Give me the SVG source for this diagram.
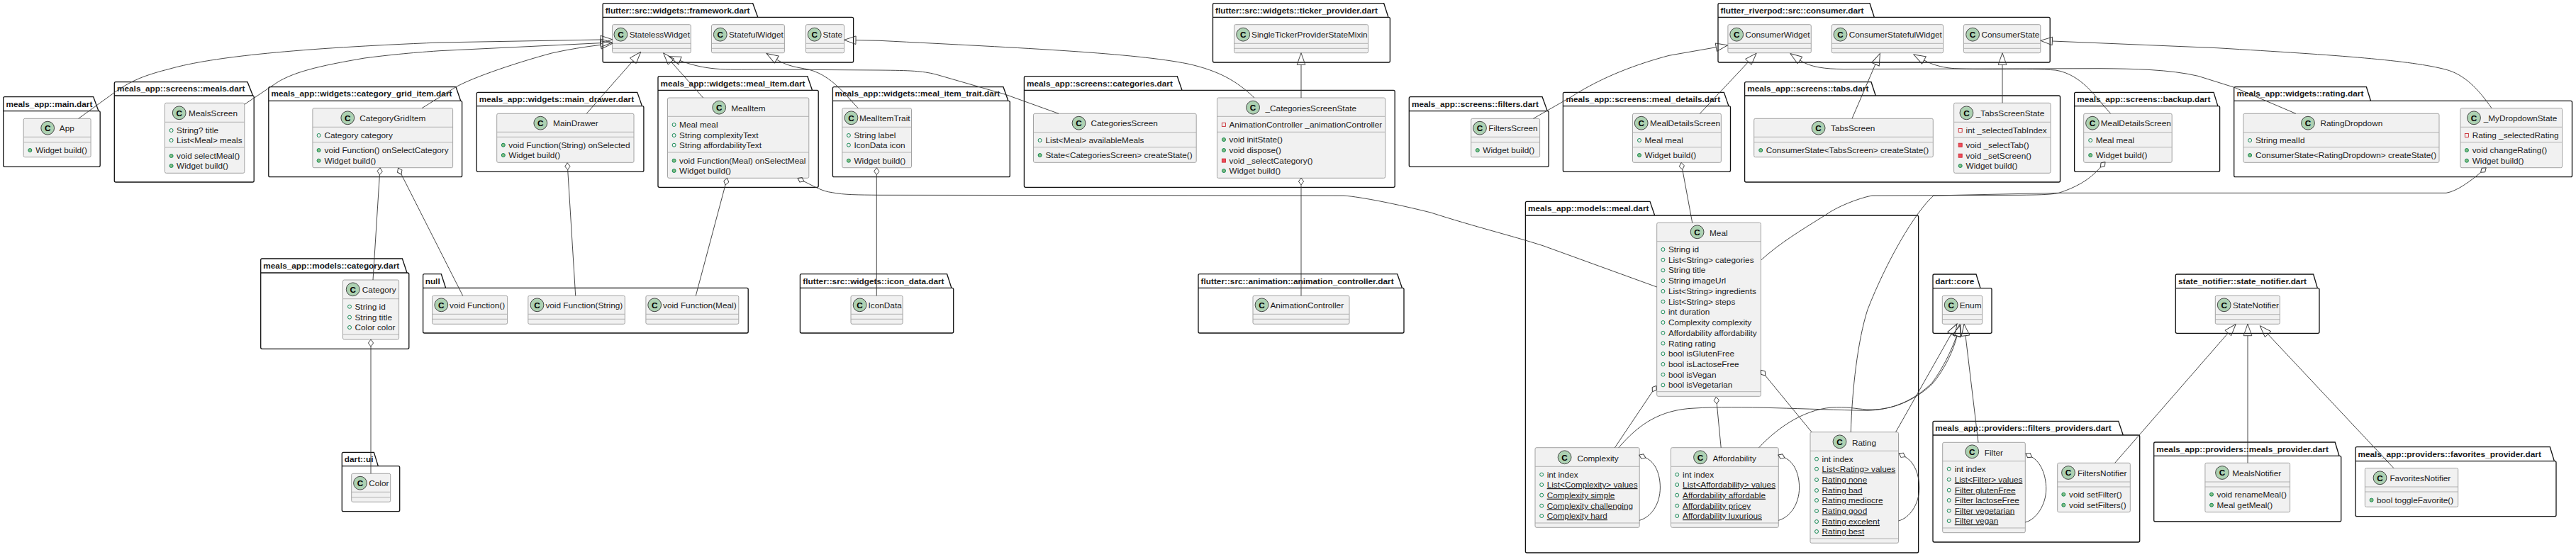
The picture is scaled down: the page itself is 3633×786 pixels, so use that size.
<svg xmlns="http://www.w3.org/2000/svg" width="3633" height="786" viewBox="0 0 3633 786">
<style>
text{font-family:"Liberation Sans",Arial,sans-serif;font-size:11.8px;fill:#1a1a1a}
.t{font-weight:bold}
.l{font-weight:bold;text-anchor:middle;fill:#000}
.u{text-decoration:underline}
.p{fill:none;stroke:#111;stroke-width:1.3}
.b{fill:#F1F1F1;stroke:#999;stroke-width:.9}
.d{fill:none;stroke:#aaa;stroke-width:.9}
.i{fill:#ADD1B2;stroke:#333;stroke-width:.9;r:9.4px}
.oa{fill:none;stroke:#038048;stroke-width:.9}
.om{fill:#84BE84;stroke:#038048;stroke-width:.9}
.xa{fill:none;stroke:#C82930;stroke-width:.9}
.xm{fill:#F24D5C;stroke:#C82930;stroke-width:.9}
#connectors path{fill:none;stroke:#333;stroke-width:.9}
#connectors .e{marker-end:url(#ext)}
#connectors .a{marker-start:url(#agg)}
</style>
<defs>
<marker id="ext" markerUnits="userSpaceOnUse" markerWidth="20" markerHeight="14" refX="1" refY="7" orient="auto"><path d="M1 1.2L17.6 7L1 12.8Z" fill="none" stroke="#333" stroke-width=".9"/></marker>
<marker id="agg" markerUnits="userSpaceOnUse" markerWidth="13" markerHeight="10" refX="11" refY="5" orient="auto"><path d="M1 5L6 1.4L11 5L6 8.6Z" fill="none" stroke="#333" stroke-width=".9"/></marker>
</defs>

<g id="pkg-main"><path class="p" d="M4.7 156.7V138.7Q4.7 136.7 6.7 136.7H131.7L139 156.7H139.2Q141.2 156.7 141.2 158.7V233.3Q141.2 235.3 139.2 235.3H6.7Q4.7 235.3 4.7 233.3V156.7H139"/><text class="t" x="8.4" y="150.7">meals_app::main.dart</text>
<g id="App"><rect class="b" x="33.2" y="167.3" width="94.9" height="54.4" rx="2"/><path class="d" d="M33.2 193.3H128.1M33.2 200.7H128.1"/><circle class="i" cx="67.2" cy="180.7" r="9.2"/><text class="l" x="67.2" y="185">C</text><text x="83.8" y="185">App</text><circle class="om" cx="42.3" cy="212" r="2.5"/><text x="50.2" y="216">Widget build()</text></g></g>

<g id="pkg-meals"><path class="p" d="M161.3 135V117.7Q161.3 115.7 163.3 115.7H349L356.7 135Q358.2 135 358.2 137V255Q358.2 257 356.2 257H163.3Q161.3 257 161.3 255V135H356.7"/><text class="t" x="165" y="129">meals_app::screens::meals.dart</text>
<g id="MealsScreen"><rect class="b" x="232.5" y="145.3" width="112.3" height="99" rx="2"/><path class="d" d="M232.5 172.3H344.8M232.5 208H344.8"/><circle class="i" cx="252.7" cy="159.3" r="9.2"/><text class="l" x="252.7" y="163.6">C</text><text x="266.1" y="164">MealsScreen</text><circle class="oa" cx="241.6" cy="184" r="2.5"/><text x="249.1" y="188">String? title</text><circle class="oa" cx="241.6" cy="198" r="2.5"/><text x="249.1" y="202">List&lt;Meal&gt; meals</text><circle class="om" cx="241.6" cy="220" r="2.5"/><text x="249.1" y="224">void selectMeal()</text><circle class="om" cx="241.6" cy="234" r="2.5"/><text x="249.1" y="238">Widget build()</text></g></g>

<g id="pkg-grid"><path class="p" d="M378.8 142.3V124.7Q378.8 122.7 380.8 122.7H643L649.7 142.3Q651.6 142.3 651.6 144.3V247.7Q651.6 249.7 649.6 249.7H380.8Q378.8 249.7 378.8 247.7V142.3H649.7"/><text class="t" x="382.4" y="136">meals_app::widgets::category_grid_item.dart</text>
<g id="CategoryGridItem"><rect class="b" x="440.9" y="152.7" width="197.7" height="84" rx="2"/><path class="d" d="M440.9 179.3H638.6M440.9 200.7H638.6"/><circle class="i" cx="490.3" cy="166.3" r="9.2"/><text class="l" x="490.3" y="170.6">C</text><text x="507.3" y="171">CategoryGridItem</text><circle class="oa" cx="449.6" cy="191" r="2.5"/><text x="457.5" y="195">Category category</text><circle class="om" cx="449.6" cy="212" r="2.5"/><text x="457.5" y="216">void Function() onSelectCategory</text><circle class="om" cx="449.6" cy="226.7" r="2.5"/><text x="457.5" y="230.7">Widget build()</text></g></g>

<g id="pkg-category"><path class="p" d="M367.7 385V367Q367.7 365 369.7 365H567.4L574 385H574.8Q576.8 385 576.8 387V490.3Q576.8 492.3 574.8 492.3H369.7Q367.7 492.3 367.7 490.3V385H574"/><text class="t" x="371.3" y="379">meals_app::models::category.dart</text>
<g id="Category"><rect class="b" x="483.5" y="395" width="79.1" height="84" rx="2"/><path class="d" d="M483.5 421.7H562.6M483.5 472H562.6"/><circle class="i" cx="497.7" cy="408.3" r="9.2"/><text class="l" x="497.7" y="412.6">C</text><text x="510.8" y="413">Category</text><circle class="oa" cx="493" cy="432.7" r="2.5"/><text x="500.5" y="436.7">String id</text><circle class="oa" cx="493" cy="447.7" r="2.5"/><text x="500.5" y="451.7">String title</text><circle class="oa" cx="493" cy="462" r="2.5"/><text x="500.5" y="466">Color color</text></g></g>

<g id="pkg-ui"><path class="p" d="M482.3 657.7V640.3Q482.3 638.3 484.3 638.3H527.4L533.3 657.7H561.7Q563.7 657.7 563.7 659.7V719.7Q563.7 721.7 561.7 721.7H484.3Q482.3 721.7 482.3 719.7V657.7H533.3"/><text class="t" x="485.8" y="652">dart::ui</text>
<g id="Color"><rect class="b" x="495.7" y="668.3" width="55" height="40" rx="2"/><path class="d" d="M495.7 694.3H550.7M495.7 701.7H550.7"/><circle class="i" cx="508" cy="681.7" r="9.2"/><text class="l" x="508" y="686">C</text><text x="520.2" y="686">Color</text></g></g>

<g id="pkg-null"><path class="p" d="M596.6 406.3V388.7Q596.6 386.7 598.6 386.7H622.3L628.6 406.3H1053.2Q1055.2 406.3 1055.2 408.3V468Q1055.2 470 1053.2 470H598.6Q596.6 470 596.6 468V406.3H628.6"/><text class="t" x="599.7" y="401">null</text>
<g id="VoidFunction"><rect class="b" x="609.6" y="417.3" width="106" height="40" rx="2"/><path class="d" d="M609.6 443.3H715.6M609.6 450.3H715.6"/><circle class="i" cx="622.3" cy="430.3" r="9.2"/><text class="l" x="622.3" y="434.6">C</text><text x="634.1" y="435">void Function()</text></g>
<g id="VoidFunctionString"><rect class="b" x="744.8" y="417.3" width="136.5" height="40" rx="2"/><path class="d" d="M744.8 443.3H881.3M744.8 450.3H881.3"/><circle class="i" cx="757.5" cy="430.3" r="9.2"/><text class="l" x="757.5" y="434.6">C</text><text x="769.4" y="435">void Function(String)</text></g>
<g id="VoidFunctionMeal"><rect class="b" x="910.9" y="417.3" width="130.9" height="40" rx="2"/><path class="d" d="M910.9 443.3H1041.8M910.9 450.3H1041.8"/><circle class="i" cx="923.2" cy="430.3" r="9.2"/><text class="l" x="923.2" y="434.6">C</text><text x="935" y="435">void Function(Meal)</text></g></g>

<g id="pkg-icon"><path class="p" d="M1128.4 406.3V388.7Q1128.4 386.7 1130.4 386.7H1335.6L1341.9 406.3H1342.7Q1344.7 406.3 1344.7 408.3V468Q1344.7 470 1342.7 470H1130.4Q1128.4 470 1128.4 468V406.3H1341.9"/><text class="t" x="1132.3" y="401">flutter::src::widgets::icon_data.dart</text>
<g id="IconData"><rect class="b" x="1200" y="417.3" width="73.1" height="40" rx="2"/><path class="d" d="M1200 443.3H1273.1M1200 450.3H1273.1"/><circle class="i" cx="1212.6" cy="430.3" r="9.2"/><text class="l" x="1212.6" y="434.6">C</text><text x="1224.5" y="435">IconData</text></g></g>

<g id="pkg-framework"><path class="p" d="M850.1 24.3V6.7Q850.1 4.7 852.1 4.7H1061.7L1068.8 24.3H1201.6Q1203.6 24.3 1203.6 26.3V86Q1203.6 88 1201.6 88H852.1Q850.1 88 850.1 86V24.3H1068.8"/><text class="t" x="853.7" y="19">flutter::src::widgets::framework.dart</text>
<g id="StatelessWidget"><rect class="b" x="863.6" y="34.7" width="110.7" height="40" rx="2"/><path class="d" d="M863.6 61.3H974.3M863.6 68.3H974.3"/><circle class="i" cx="875.4" cy="48.7" r="9.2"/><text class="l" x="875.4" y="53">C</text><text x="887.7" y="53">StatelessWidget</text></g>
<g id="StatefulWidget"><rect class="b" x="1003.5" y="34.7" width="102.9" height="40" rx="2"/><path class="d" d="M1003.5 61.3H1106.4M1003.5 68.3H1106.4"/><circle class="i" cx="1015.8" cy="48.7" r="9.2"/><text class="l" x="1015.8" y="53">C</text><text x="1028" y="53">StatefulWidget</text></g>
<g id="State"><rect class="b" x="1136.4" y="34.7" width="54.2" height="40" rx="2"/><path class="d" d="M1136.4 61.3H1190.6M1136.4 68.3H1190.6"/><circle class="i" cx="1148.7" cy="48.7" r="9.2"/><text class="l" x="1148.7" y="53">C</text><text x="1160.5" y="53">State</text></g></g>

<g id="pkg-drawer"><path class="p" d="M672.2 149.7V132.3Q672.2 130.3 674.2 130.3H898.8L905.5 149.7H905.9Q907.9 149.7 907.9 151.7V240.3Q907.9 242.3 905.9 242.3H674.2Q672.2 242.3 672.2 240.3V149.7H905.5"/><text class="t" x="675.8" y="144">meals_app::widgets::main_drawer.dart</text>
<g id="MainDrawer"><rect class="b" x="700.7" y="160.3" width="193.3" height="69" rx="2"/><path class="d" d="M700.7 186.3H894M700.7 193.3H894"/><circle class="i" cx="762.3" cy="173.7" r="9.2"/><text class="l" x="762.3" y="178">C</text><text x="780.1" y="178">MainDrawer</text><circle class="om" cx="709.8" cy="204.7" r="2.5"/><text x="717.3" y="208.7">void Function(String) onSelected</text><circle class="om" cx="709.8" cy="219" r="2.5"/><text x="717.3" y="223">Widget build()</text></g></g>

<g id="pkg-mealitem"><path class="p" d="M928 127.3V109.7Q928 107.7 930 107.7H1138.8L1145.5 127.3H1152.2Q1154.2 127.3 1154.2 129.3V262.3Q1154.2 264.3 1152.2 264.3H930Q928 264.3 928 262.3V127.3H1145.5"/><text class="t" x="931.6" y="122">meals_app::widgets::meal_item.dart</text>
<g id="MealItem"><rect class="b" x="941.5" y="138" width="199.3" height="113.3" rx="2"/><path class="d" d="M941.5 164.3H1140.8M941.5 215H1140.8"/><circle class="i" cx="1014.2" cy="151.7" r="9.2"/><text class="l" x="1014.2" y="156">C</text><text x="1031.2" y="156.5">MealItem</text><circle class="oa" cx="950.6" cy="176" r="2.5"/><text x="958.1" y="180">Meal meal</text><circle class="oa" cx="950.6" cy="191" r="2.5"/><text x="958.1" y="195">String complexityText</text><circle class="oa" cx="950.6" cy="204.7" r="2.5"/><text x="958.1" y="208.7">String affordabilityText</text><circle class="om" cx="950.6" cy="226.7" r="2.5"/><text x="958.1" y="230.7">void Function(Meal) onSelectMeal</text><circle class="om" cx="950.6" cy="241" r="2.5"/><text x="958.1" y="245">Widget build()</text></g></g>

<g id="pkg-trait"><path class="p" d="M1174.4 142.3V124.7Q1174.4 122.7 1176.4 122.7H1415L1421.9 142.3H1422.3Q1424.3 142.3 1424.3 144.3V247.7Q1424.3 249.7 1422.3 249.7H1176.4Q1174.4 249.7 1174.4 247.7V142.3H1421.9"/><text class="t" x="1177.5" y="136">meals_app::widgets::meal_item_trait.dart</text>
<g id="MealItemTrait"><rect class="b" x="1187.8" y="152.7" width="97.7" height="84" rx="2"/><path class="d" d="M1187.8 179.3H1285.5M1187.8 215H1285.5"/><circle class="i" cx="1200.5" cy="166.3" r="9.2"/><text class="l" x="1200.5" y="170.6">C</text><text x="1211.9" y="171">MealItemTrait</text><circle class="oa" cx="1196.9" cy="191" r="2.5"/><text x="1204.4" y="195">String label</text><circle class="oa" cx="1196.9" cy="204.7" r="2.5"/><text x="1204.4" y="208.7">IconData icon</text><circle class="om" cx="1196.9" cy="226.7" r="2.5"/><text x="1204.4" y="230.7">Widget build()</text></g></g>

<g id="pkg-ticker"><path class="p" d="M1710.5 24.3V6.7Q1710.5 4.7 1712.5 4.7H1951.7L1958 24.3H1958.4Q1960.4 24.3 1960.4 26.3V86Q1960.4 88 1958.4 88H1712.5Q1710.5 88 1710.5 86V24.3H1958"/><text class="t" x="1714.1" y="19">flutter::src::widgets::ticker_provider.dart</text>
<g id="SingleTickerProviderStateMixin"><rect class="b" x="1740.6" y="34.7" width="189" height="40" rx="2"/><path class="d" d="M1740.6 61.3H1929.6M1740.6 68.3H1929.6"/><circle class="i" cx="1753.2" cy="48.7" r="9.2"/><text class="l" x="1753.2" y="53">C</text><text x="1765.1" y="53">SingleTickerProviderStateMixin</text></g></g>

<g id="pkg-categories"><path class="p" d="M1444.4 127.3V109.7Q1444.4 107.7 1446.4 107.7H1660.3L1667 127.3H1965.2Q1967.2 127.3 1967.2 129.3V262.3Q1967.2 264.3 1965.2 264.3H1446.4Q1444.4 264.3 1444.4 262.3V127.3H1667"/><text class="t" x="1448" y="122">meals_app::screens::categories.dart</text>
<g id="CategoriesScreen"><rect class="b" x="1457.5" y="160.3" width="229.7" height="69" rx="2"/><path class="d" d="M1457.5 186.7H1687.2M1457.5 207.7H1687.2"/><circle class="i" cx="1521.5" cy="173.7" r="9.2"/><text class="l" x="1521.5" y="178">C</text><text x="1538.5" y="178">CategoriesScreen</text><circle class="oa" cx="1466.6" cy="198" r="2.5"/><text x="1474.5" y="202">List&lt;Meal&gt; availableMeals</text><circle class="om" cx="1466.6" cy="219" r="2.5"/><text x="1474.5" y="223">State&lt;CategoriesScreen&gt; createState()</text></g>
<g id="CategoriesScreenState"><rect class="b" x="1716.5" y="138" width="237.2" height="113.3" rx="2"/><path class="d" d="M1716.5 164.3H1953.7M1716.5 186.3H1953.7"/><circle class="i" cx="1767.1" cy="151.7" r="9.2"/><text class="l" x="1767.1" y="156">C</text><text x="1784.5" y="156.5">_CategoriesScreenState</text><rect class="xa" x="1723.4" y="173.4" width="5" height="5"/><text x="1733.5" y="180">AnimationController _animationController</text><circle class="om" cx="1726" cy="197" r="2.5"/><text x="1733.5" y="201">void initState()</text><circle class="om" cx="1726" cy="212" r="2.5"/><text x="1733.5" y="216">void dispose()</text><rect class="xm" x="1723.4" y="224.1" width="5" height="5"/><text x="1733.5" y="230.7">void _selectCategory()</text><circle class="om" cx="1726" cy="241" r="2.5"/><text x="1733.5" y="245">Widget build()</text></g></g>

<g id="pkg-animation"><path class="p" d="M1690 406.3V388.7Q1690 386.7 1692 386.7H1970.7L1977.4 406.3H1978Q1980 406.3 1980 408.3V468Q1980 470 1978 470H1692Q1690 470 1690 468V406.3H1977.4"/><text class="t" x="1693.6" y="401">flutter::src::animation::animation_controller.dart</text>
<g id="AnimationController"><rect class="b" x="1767" y="417.3" width="136" height="40" rx="2"/><path class="d" d="M1767 443.3H1903M1767 450.3H1903"/><circle class="i" cx="1779.5" cy="430.3" r="9.2"/><text class="l" x="1779.5" y="434.6">C</text><text x="1791.5" y="435">AnimationController</text></g></g>

<g id="pkg-filters"><path class="p" d="M1987.3 156.7V138.7Q1987.3 136.7 1989.3 136.7H2175.1L2182.3 156.7Q2184.2 156.7 2184.2 158.7V233.3Q2184.2 235.3 2182.2 235.3H1989.3Q1987.3 235.3 1987.3 233.3V156.7H2182.3"/><text class="t" x="1990.9" y="150.7">meals_app::screens::filters.dart</text>
<g id="FiltersScreen"><rect class="b" x="2074.7" y="167.3" width="96.9" height="54.4" rx="2"/><path class="d" d="M2074.7 193.3H2171.6M2074.7 200.7H2171.6"/><circle class="i" cx="2087" cy="180.7" r="9.2"/><text class="l" x="2087" y="185">C</text><text x="2099.2" y="185">FiltersScreen</text><circle class="om" cx="2083.8" cy="212" r="2.5"/><text x="2091.3" y="216">Widget build()</text></g></g>

<g id="pkg-details"><path class="p" d="M2204.4 149.7V132.3Q2204.4 130.3 2206.4 130.3H2431.4L2438 149.7H2438.5Q2440.5 149.7 2440.5 151.7V240.3Q2440.5 242.3 2438.5 242.3H2206.4Q2204.4 242.3 2204.4 240.3V149.7H2438"/><text class="t" x="2208.4" y="144">meals_app::screens::meal_details.dart</text>
<g id="MealDetailsScreen"><rect class="b" x="2302.5" y="160.3" width="124.9" height="69" rx="2"/><path class="d" d="M2302.5 186.7H2427.4M2302.5 207.7H2427.4"/><circle class="i" cx="2314.7" cy="173.7" r="9.2"/><text class="l" x="2314.7" y="178">C</text><text x="2327" y="178">MealDetailsScreen</text><circle class="oa" cx="2312" cy="198" r="2.5"/><text x="2319.5" y="202">Meal meal</text><circle class="om" cx="2312" cy="219" r="2.5"/><text x="2319.5" y="223">Widget build()</text></g></g>

<g id="pkg-meal"><path class="p" d="M2151.4 304V286.3Q2151.4 284.3 2153.4 284.3H2327L2333.7 304H2703.6Q2705.6 304 2705.6 306V778Q2705.6 780 2703.6 780H2153.4Q2151.4 780 2151.4 778V304H2333.7"/><text class="t" x="2155" y="298">meals_app::models::meal.dart</text>
<g id="Meal"><rect class="b" x="2336.7" y="314.3" width="146.7" height="245" rx="2"/><path class="d" d="M2336.7 340.7H2483.4M2336.7 552.7H2483.4"/><circle class="i" cx="2393.6" cy="327.3" r="9.2"/><text class="l" x="2393.6" y="331.6">C</text><text x="2411" y="332.5">Meal</text>
<circle class="oa" cx="2345.4" cy="352" r="2.5"/><text x="2352.9" y="356">String id</text>
<circle class="oa" cx="2345.4" cy="366.7" r="2.5"/><text x="2352.9" y="370.7">List&lt;String&gt; categories</text>
<circle class="oa" cx="2345.4" cy="381.4" r="2.5"/><text x="2352.9" y="385.4">String title</text>
<circle class="oa" cx="2345.4" cy="396.2" r="2.5"/><text x="2352.9" y="400.2">String imageUrl</text>
<circle class="oa" cx="2345.4" cy="410.9" r="2.5"/><text x="2352.9" y="414.9">List&lt;String&gt; ingredients</text>
<circle class="oa" cx="2345.4" cy="425.6" r="2.5"/><text x="2352.9" y="429.6">List&lt;String&gt; steps</text>
<circle class="oa" cx="2345.4" cy="440.3" r="2.5"/><text x="2352.9" y="444.3">int duration</text>
<circle class="oa" cx="2345.4" cy="455" r="2.5"/><text x="2352.9" y="459">Complexity complexity</text>
<circle class="oa" cx="2345.4" cy="469.8" r="2.5"/><text x="2352.9" y="473.8">Affordability affordability</text>
<circle class="oa" cx="2345.4" cy="484.5" r="2.5"/><text x="2352.9" y="488.5">Rating rating</text>
<circle class="oa" cx="2345.4" cy="499.2" r="2.5"/><text x="2352.9" y="503.2">bool isGlutenFree</text>
<circle class="oa" cx="2345.4" cy="513.9" r="2.5"/><text x="2352.9" y="517.9">bool isLactoseFree</text>
<circle class="oa" cx="2345.4" cy="528.6" r="2.5"/><text x="2352.9" y="532.6">bool isVegan</text>
<circle class="oa" cx="2345.4" cy="543.4" r="2.5"/><text x="2352.9" y="547.4">bool isVegetarian</text></g>
<g id="Complexity"><rect class="b" x="2165" y="631.7" width="147.2" height="112.6" rx="2"/><path class="d" d="M2165 658.3H2312.2M2165 738H2312.2"/><circle class="i" cx="2206.6" cy="645.3" r="9.2"/><text class="l" x="2206.6" y="649.6">C</text><text x="2224.4" y="650.5">Complexity</text>
<circle class="oa" cx="2174.2" cy="669.7" r="2.5"/><text x="2181.7" y="673.7">int index</text>
<circle class="oa" cx="2174.2" cy="684" r="2.5"/><text class="u" x="2181.7" y="688">List&lt;Complexity&gt; values</text>
<circle class="oa" cx="2174.2" cy="698.7" r="2.5"/><text class="u" x="2181.7" y="702.7">Complexity simple</text>
<circle class="oa" cx="2174.2" cy="713.7" r="2.5"/><text class="u" x="2181.7" y="717.7">Complexity challenging</text>
<circle class="oa" cx="2174.2" cy="728" r="2.5"/><text class="u" x="2181.7" y="732">Complexity hard</text></g>
<g id="Affordability"><rect class="b" x="2356.5" y="631.7" width="151.8" height="112.6" rx="2"/><path class="d" d="M2356.5 658.3H2508.3M2356.5 738H2508.3"/><circle class="i" cx="2398" cy="645.3" r="9.2"/><text class="l" x="2398" y="649.6">C</text><text x="2415.4" y="650.5">Affordability</text>
<circle class="oa" cx="2365.2" cy="669.7" r="2.5"/><text x="2373.1" y="673.7">int index</text>
<circle class="oa" cx="2365.2" cy="684" r="2.5"/><text class="u" x="2373.1" y="688">List&lt;Affordability&gt; values</text>
<circle class="oa" cx="2365.2" cy="698.7" r="2.5"/><text class="u" x="2373.1" y="702.7">Affordability affordable</text>
<circle class="oa" cx="2365.2" cy="713.7" r="2.5"/><text class="u" x="2373.1" y="717.7">Affordability pricey</text>
<circle class="oa" cx="2365.2" cy="728" r="2.5"/><text class="u" x="2373.1" y="732">Affordability luxurious</text></g>
<g id="Rating"><rect class="b" x="2553" y="609.7" width="124.5" height="156.6" rx="2"/><path class="d" d="M2553 636.3H2677.5M2553 760H2677.5"/><circle class="i" cx="2594.5" cy="623.3" r="9.2"/><text class="l" x="2594.5" y="627.6">C</text><text x="2611.9" y="628.5">Rating</text>
<circle class="oa" cx="2562" cy="647.7" r="2.5"/><text x="2569.6" y="651.7">int index</text>
<circle class="oa" cx="2562" cy="661.7" r="2.5"/><text class="u" x="2569.6" y="665.7">List&lt;Rating&gt; values</text>
<circle class="oa" cx="2562" cy="677" r="2.5"/><text class="u" x="2569.6" y="681">Rating none</text>
<circle class="oa" cx="2562" cy="692" r="2.5"/><text class="u" x="2569.6" y="696">Rating bad</text>
<circle class="oa" cx="2562" cy="706" r="2.5"/><text class="u" x="2569.6" y="710">Rating mediocre</text>
<circle class="oa" cx="2562" cy="721" r="2.5"/><text class="u" x="2569.6" y="725">Rating good</text>
<circle class="oa" cx="2562" cy="736" r="2.5"/><text class="u" x="2569.6" y="740">Rating excelent</text>
<circle class="oa" cx="2562" cy="750" r="2.5"/><text class="u" x="2569.6" y="754">Rating best</text></g></g>

<g id="pkg-consumer"><path class="p" d="M2423 24.3V6.7Q2423 4.7 2425 4.7H2637L2643.3 24.3H2889.2Q2891.2 24.3 2891.2 26.3V86Q2891.2 88 2889.2 88H2425Q2423 88 2423 86V24.3H2643.3"/><text class="t" x="2426.6" y="19">flutter_riverpod::src::consumer.dart</text>
<g id="ConsumerWidget"><rect class="b" x="2436.9" y="34.7" width="117.4" height="40" rx="2"/><path class="d" d="M2436.9 61.3H2554.3M2436.9 68.3H2554.3"/><circle class="i" cx="2449.2" cy="48.7" r="9.2"/><text class="l" x="2449.2" y="53">C</text><text x="2461.4" y="53">ConsumerWidget</text></g>
<g id="ConsumerStatefulWidget"><rect class="b" x="2583.2" y="34.7" width="157.4" height="40" rx="2"/><path class="d" d="M2583.2 61.3H2740.6M2583.2 68.3H2740.6"/><circle class="i" cx="2595.5" cy="48.7" r="9.2"/><text class="l" x="2595.5" y="53">C</text><text x="2607.7" y="53">ConsumerStatefulWidget</text></g>
<g id="ConsumerState"><rect class="b" x="2769.4" y="34.7" width="108.4" height="40" rx="2"/><path class="d" d="M2769.4 61.3H2877.8M2769.4 68.3H2877.8"/><circle class="i" cx="2782.1" cy="48.7" r="9.2"/><text class="l" x="2782.1" y="53">C</text><text x="2794.4" y="53">ConsumerState</text></g></g>

<g id="pkg-tabs"><path class="p" d="M2460.6 135V117.7Q2460.6 115.7 2462.6 115.7H2639L2645.3 135H2903.5Q2905.5 135 2905.5 137V255Q2905.5 257 2903.5 257H2462.6Q2460.6 257 2460.6 255V135H2645.3"/><text class="t" x="2464.2" y="129">meals_app::screens::tabs.dart</text>
<g id="TabsScreen"><rect class="b" x="2473.7" y="167.3" width="252.6" height="54.4" rx="2"/><path class="d" d="M2473.7 193.3H2726.3M2473.7 200.7H2726.3"/><circle class="i" cx="2564.6" cy="180.7" r="9.2"/><text class="l" x="2564.6" y="185">C</text><text x="2582" y="185">TabsScreen</text><circle class="om" cx="2483.2" cy="212" r="2.5"/><text x="2490.7" y="216">ConsumerState&lt;TabsScreen&gt; createState()</text></g>
<g id="TabsScreenState"><rect class="b" x="2755.6" y="145.3" width="136.4" height="99" rx="2"/><path class="d" d="M2755.6 172.3H2892M2755.6 193.7H2892"/><circle class="i" cx="2773.4" cy="159.3" r="9.2"/><text class="l" x="2773.4" y="163.6">C</text><text x="2786.8" y="164">_TabsScreenState</text><rect class="xa" x="2762.2" y="181.5" width="5" height="5"/><text x="2772.6" y="188">int _selectedTabIndex</text><rect class="xm" x="2762.2" y="202.2" width="5" height="5"/><text x="2772.6" y="208.7">void _selectTab()</text><rect class="xm" x="2762.2" y="217.2" width="5" height="5"/><text x="2772.6" y="223.7">void _setScreen()</text><circle class="om" cx="2764.7" cy="234" r="2.5"/><text x="2772.6" y="238">Widget build()</text></g></g>

<g id="pkg-backup"><path class="p" d="M2925.6 149.7V132.3Q2925.6 130.3 2927.6 130.3H3122L3127.9 149.7H3128.6Q3130.6 149.7 3130.6 151.7V240.3Q3130.6 242.3 3128.6 242.3H2927.6Q2925.6 242.3 2925.6 240.3V149.7H3127.9"/><text class="t" x="2929.2" y="144">meals_app::screens::backup.dart</text>
<g id="BackupMealDetailsScreen"><rect class="b" x="2938.7" y="160.3" width="124.5" height="69" rx="2"/><path class="d" d="M2938.7 186.7H3063.2M2938.7 207.7H3063.2"/><circle class="i" cx="2951" cy="173.7" r="9.2"/><text class="l" x="2951" y="178">C</text><text x="2962.8" y="178">MealDetailsScreen</text><circle class="oa" cx="2948.2" cy="198" r="2.5"/><text x="2955.7" y="202">Meal meal</text><circle class="om" cx="2948.2" cy="219" r="2.5"/><text x="2955.7" y="223">Widget build()</text></g></g>

<g id="pkg-rating"><path class="p" d="M3150.7 142.3V124.7Q3150.7 122.7 3152.7 122.7H3337.4L3343.5 142.3H3625.5Q3627.5 142.3 3627.5 144.3V247.7Q3627.5 249.7 3625.5 249.7H3152.7Q3150.7 249.7 3150.7 247.7V142.3H3343.5"/><text class="t" x="3154.4" y="136">meals_app::widgets::rating.dart</text>
<g id="RatingDropdown"><rect class="b" x="3163.9" y="160.3" width="276.1" height="69" rx="2"/><path class="d" d="M3163.9 186.7H3440M3163.9 207.7H3440"/><circle class="i" cx="3255" cy="173.7" r="9.2"/><text class="l" x="3255" y="178">C</text><text x="3272.4" y="178">RatingDropdown</text><circle class="oa" cx="3173.1" cy="198" r="2.5"/><text x="3181" y="202">String mealId</text><circle class="om" cx="3173.1" cy="219" r="2.5"/><text x="3181" y="223">ConsumerState&lt;RatingDropdown&gt; createState()</text></g>
<g id="MyDropdownState"><rect class="b" x="3470" y="152.7" width="143.6" height="84" rx="2"/><path class="d" d="M3470 179.3H3613.6M3470 200.7H3613.6"/><circle class="i" cx="3489" cy="166.3" r="9.2"/><text class="l" x="3489" y="170.6">C</text><text x="3502.7" y="171">_MyDropdownState</text><rect class="xa" x="3476.4" y="188.5" width="5" height="5"/><text x="3486.7" y="195">Rating _selectedRating</text><circle class="om" cx="3478.9" cy="212" r="2.5"/><text x="3486.7" y="216">void changeRating()</text><circle class="om" cx="3478.9" cy="226.7" r="2.5"/><text x="3486.7" y="230.7">Widget build()</text></g></g>

<g id="pkg-core"><path class="p" d="M2726 406.7V389Q2726 387 2728 387H2787L2793 406.7H2807Q2809 406.7 2809 408.7V468.3Q2809 470.3 2807 470.3H2728Q2726 470.3 2726 468.3V406.7H2793"/><text class="t" x="2729.3" y="401">dart::core</text>
<g id="Enum"><rect class="b" x="2739.3" y="417.3" width="56.4" height="40" rx="2"/><path class="d" d="M2739.3 443.7H2795.7M2739.3 450.7H2795.7"/><circle class="i" cx="2751.7" cy="430.3" r="9.2"/><text class="l" x="2751.7" y="434.6">C</text><text x="2763.7" y="435">Enum</text></g></g>

<g id="pkg-notifier"><path class="p" d="M3068.3 406.7V389Q3068.3 387 3070.3 387H3262.6L3268.4 406.7H3269Q3271 406.7 3271 408.7V468.3Q3271 470.3 3269 470.3H3070.3Q3068.3 470.3 3068.3 468.3V406.7H3268.4"/><text class="t" x="3072" y="401">state_notifier::state_notifier.dart</text>
<g id="StateNotifier"><rect class="b" x="3124.3" y="417.3" width="91" height="40" rx="2"/><path class="d" d="M3124.3 443.7H3215.3M3124.3 450.7H3215.3"/><circle class="i" cx="3136.7" cy="430.3" r="9.2"/><text class="l" x="3136.7" y="434.6">C</text><text x="3149" y="435">StateNotifier</text></g></g>

<g id="pkg-filters-providers"><path class="p" d="M2726 614V596.3Q2726 594.3 2728 594.3H2987.7L2994.3 614H3015.7Q3017.7 614 3017.7 616V763Q3017.7 765 3015.7 765H2728Q2726 765 2726 763V614H2994.3"/><text class="t" x="2729.3" y="608">meals_app::providers::filters_providers.dart</text>
<g id="Filter"><rect class="b" x="2739.7" y="624.3" width="116.6" height="127.4" rx="2"/><path class="d" d="M2739.7 650.7H2856.3M2739.7 745H2856.3"/><circle class="i" cx="2781.3" cy="637.3" r="9.2"/><text class="l" x="2781.3" y="641.6">C</text><text x="2798.7" y="642.5">Filter</text>
<circle class="oa" cx="2748.7" cy="661.7" r="2.5"/><text x="2756.7" y="665.7">int index</text>
<circle class="oa" cx="2748.7" cy="676.7" r="2.5"/><text class="u" x="2756.7" y="680.7">List&lt;Filter&gt; values</text>
<circle class="oa" cx="2748.7" cy="691.7" r="2.5"/><text class="u" x="2756.7" y="695.7">Filter glutenFree</text>
<circle class="oa" cx="2748.7" cy="706" r="2.5"/><text class="u" x="2756.7" y="710">Filter lactoseFree</text>
<circle class="oa" cx="2748.7" cy="720.7" r="2.5"/><text class="u" x="2756.7" y="724.7">Filter vegetarian</text>
<circle class="oa" cx="2748.7" cy="735" r="2.5"/><text class="u" x="2756.7" y="739">Filter vegan</text></g>
<g id="FiltersNotifier"><rect class="b" x="2901.7" y="653.3" width="102.6" height="69.4" rx="2"/><path class="d" d="M2901.7 680H3004.3M2901.7 687H3004.3"/><circle class="i" cx="2917" cy="667" r="9.2"/><text class="l" x="2917" y="671.3">C</text><text x="2930" y="671.5">FiltersNotifier</text><circle class="om" cx="2910.3" cy="697.7" r="2.5"/><text x="2918" y="701.7">void setFilter()</text><circle class="om" cx="2910.3" cy="712.7" r="2.5"/><text x="2918" y="716.7">void setFilters()</text></g></g>

<g id="pkg-meals-provider"><path class="p" d="M3037.7 643.3V626Q3037.7 624 3039.7 624H3293.2L3299 643.3H3299.7Q3301.7 643.3 3301.7 645.3V734Q3301.7 736 3299.7 736H3039.7Q3037.7 736 3037.7 734V643.3H3299"/><text class="t" x="3041.3" y="638">meals_app::providers::meals_provider.dart</text>
<g id="MealsNotifier"><rect class="b" x="3109.9" y="653.3" width="119.7" height="69.4" rx="2"/><path class="d" d="M3109.9 680H3229.6M3109.9 687H3229.6"/><circle class="i" cx="3134" cy="667" r="9.2"/><text class="l" x="3134" y="671.3">C</text><text x="3148.3" y="671.5">MealsNotifier</text><circle class="om" cx="3119" cy="697.7" r="2.5"/><text x="3126.5" y="701.7">void renameMeal()</text><circle class="om" cx="3119" cy="712.7" r="2.5"/><text x="3126.5" y="716.7">Meal getMeal()</text></g></g>

<g id="pkg-favorites"><path class="p" d="M3322.1 650.7V632.7Q3322.1 630.7 3324.1 630.7H3596.3L3602.4 650.7H3603Q3605 650.7 3605 652.7V726.7Q3605 728.7 3603 728.7H3324.1Q3322.1 728.7 3322.1 726.7V650.7H3602.4"/><text class="t" x="3325.5" y="645">meals_app::providers::favorites_provider.dart</text>
<g id="FavoritesNotifier"><rect class="b" x="3335.4" y="660.7" width="131.3" height="54.6" rx="2"/><path class="d" d="M3335.4 687H3466.7M3335.4 694H3466.7"/><circle class="i" cx="3356.5" cy="674.3" r="9.2"/><text class="l" x="3356.5" y="678.6">C</text><text x="3370.4" y="679">FavoritesNotifier</text><circle class="om" cx="3344.6" cy="705.7" r="2.5"/><text x="3352" y="709.7">bool toggleFavorite()</text></g></g>

<g id="connectors">
<path class="e" d="M110.7 167.3L158 133C185 113 205 106 240 97C300 80 420 68 620 60L847 56"/>
<path class="e" d="M344.8 147.3L385.5 120C410 102 450 93 514 82C560 76 600 73 620 71.7L847 60.7"/>
<path class="e" d="M595 152.7L643.7 122.3C670 108 730 88 778 75C800 70 825 66 847.4 63.3"/>
<path class="e" d="M827.2 160.3L892.8 85.7"/>
<path class="e" d="M991.7 138L946.6 87.2"/>
<path class="e" d="M1493 160.3L1418 133.3L1320 105C1300 100 1285 99.5 1240 99L1080 98C1030 98 1000 101 959 85.5"/>
<path class="e" d="M1210.3 152.7L1189.4 130C1175 115 1160 103 1140 98C1125 95 1112 94 1095.3 84"/>
<path class="e" d="M1769 138C1745 115 1720 100 1675 90C1600 75 1450 68 1240 57.3L1207 56.7"/>
<path class="e" d="M1835 138V91.3"/>
<path class="e" d="M2162.5 167.3L2215.9 136.7C2260 108 2310 90 2354 78.3L2420.3 66.7"/>
<path class="e" d="M2397.4 160.3L2465.8 87.3"/>
<path class="e" d="M2612 167.3L2644.9 90.7"/>
<path class="e" d="M2824 145.3V91.3"/>
<path class="e" d="M2976.6 160.3L2950.5 130C2935 113 2918 102 2899 99C2860 96 2800 99 2756.8 96.7C2745 96 2728 93 2713.5 85"/>
<path class="e" d="M3237.8 160.3L3151 123.3L3100 107.3C3060 98 3010 97 2962 96.7L2600 97.5C2575 97.5 2553 95 2538.5 85"/>
<path class="e" d="M3514 152.7C3495 125 3475 105 3450 98.3C3400 85 3300 78 3127 67.7L2894.4 58"/>
<path class="a" d="M535.4 246.7L526 395"/>
<path class="a" d="M566 246L652.7 417.3"/>
<path class="a" d="M523 489V668.3"/>
<path class="a" d="M800.7 239.7L811.7 417.3"/>
<path class="a" d="M1023 261L981.3 417.3"/>
<path class="a" d="M1134 256C1150 264 1160 270 1173.6 271.7C1190 275 1210 275 1240 275.3L1895 276C1920 278 1970 288 2018 300C2080 320 2130 332 2176 346.7L2336.7 405"/>
<path class="a" d="M1236.3 246.7V417.3"/>
<path class="a" d="M1835 261V417.3"/>
<path class="a" d="M2372.8 239.3L2386.7 314.3"/>
<path class="a" d="M2962.4 236C2950 250 2935 262 2903 272.5C2890 275 2870 275 2850 275.3L2640 276C2620 280 2590 292 2574.7 303.3C2540 325 2510 343 2484 366.7"/>
<path class="a" d="M3498.6 243.3C3485 255 3465 270 3450 272.3L2903 272.3L2727 276C2700 300 2660 370 2634 436.7C2620 480 2612 550 2610.3 609.7"/>
<path class="a" d="M2330.4 552.7L2277.4 631.7"/>
<path class="a" d="M2421.3 570L2427.2 631.7"/>
<path class="a" d="M2489.7 530L2555 609.7"/>
<path class="a" d="M2320.9 646C2335 652 2341.4 670 2341.4 688C2341.4 712 2328 730 2312.2 734.3"/>
<path class="a" d="M2517 646C2531 652 2537.6 670 2537.6 688C2537.6 712 2524 730 2508.3 734.3"/>
<path class="a" d="M2687 644.7C2700 652 2706.8 670 2706.8 688C2706.8 712 2693 731 2677.5 735"/>
<path class="a" d="M2865.7 645C2878 652 2885.7 670 2885.7 690C2885.7 712 2872 733 2856.3 737"/>
<path class="e" d="M2282.9 631.7C2310 600 2340 578 2390 576C2450 572 2550 578 2634 579.3C2670 578 2700 565 2725 540C2740 520 2752 495 2759.5 474"/>
<path class="e" d="M2480.6 631.7C2510 600 2550 575 2590.5 574.7C2610 574 2620 578 2640 578C2670 578 2700 565 2725 542C2742 522 2755 495 2760 474"/>
<path class="e" d="M2673.6 609.7L2751.8 471.5"/>
<path class="e" d="M2790 624.3L2772 473.7"/>
<path class="e" d="M2982.7 653.3L3142.3 470"/>
<path class="e" d="M3170 653.3V473.7"/>
<path class="e" d="M3376 660.7L3198.6 471.7"/>
</g>
</svg>
